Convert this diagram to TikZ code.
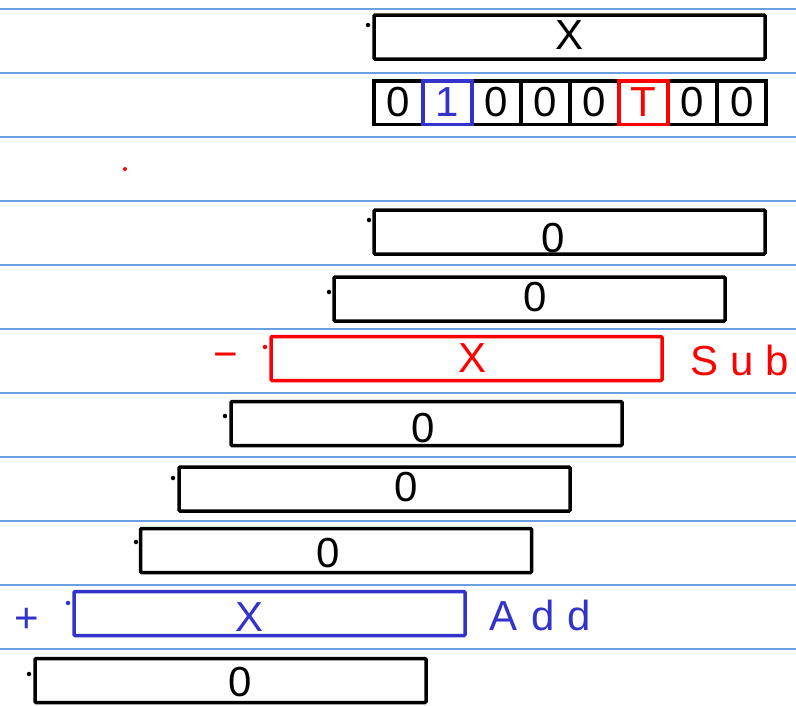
\documentclass[tikz,border=0pt]{standalone}
\usepackage{fontspec}
\setmainfont{Liberation Sans}
\definecolor{rulecol}{RGB}{105,160,225}
\definecolor{inkred}{RGB}{255,0,0}
\definecolor{inkblue}{RGB}{51,51,204}
\begin{document}
\begin{tikzpicture}[x=1pt,y=-1pt,
  bar/.style={draw, fill=white, line width=3.5pt, rounded corners=1pt,
    minimum width=391pt, minimum height=44pt, inner sep=0pt},
  cell/.style={draw, fill=white, line width=3.5pt,
    minimum width=49.06pt, minimum height=43.5pt, inner sep=0pt},
  ink/.style={font=\fontsize{42}{42}\selectfont, inner sep=0pt},
  tick/.style={circle, fill, inner sep=0pt, minimum size=4.5pt}]
\useasboundingbox (0,0) rectangle (796,705);
% ruled paper
\foreach \k in {0,...,10}
  \draw[rulecol, line width=1.2pt] (0,9+64*\k) -- (796,9+64*\k);

% word X
\node[bar] (wx) at (569.5,37) {};
\node[ink] (wxl) at (570,35) {X};
\node[tick] (wxd) at (368,25) {};

% bit cells: plain ones first, highlighted ones on top
\foreach \b/\c [count=\i from 0] in {0/black,1/inkblue,0/black,0/black,0/black,T/inkred,0/black,0/black}
  \node[cell] (c\i) at (373.75+49.06*\i+24.53,102.5) {};
\node[cell, draw=inkblue] (cb) at (c1) {};
\node[cell, draw=inkred] (cr) at (c5) {};
\foreach \b/\c [count=\i from 0] in {0/black,1/inkblue,0/black,0/black,0/black,T/inkred,0/black,0/black}
  \node[ink, text=\c] (d\i) at (c\i) {\b};

% partial products
\node[bar] (r3) at (569.5,232) {};
\node[ink] (r3l) at (553,238) {0};
\node[tick] (r3d) at (369,220) {};

\node[bar] (r4) at (529.5,299) {};
\node[ink] (r4l) at (535,297) {0};
\node[tick] (r4d) at (329,292) {};

\node[bar, draw=inkred] (r5) at (466.5,358.5) {};
\node[ink, text=inkred] (r5l) at (473,358) {X};
\node[tick, inkred] (r5d) at (265,347) {};
\node[ink, text=inkred] (minus) at (226,361) {−};
\node[ink, text=inkred, anchor=base] (sub) at (740,375) {S\hspace{12pt}u\hspace{12pt}b};

\node[bar] (r6) at (426.5,423.5) {};
\node[ink] (r6l) at (423,428) {0};
\node[tick] (r6d) at (225,416) {};

\node[bar] (r7) at (374.5,489) {};
\node[ink] (r7l) at (406,487) {0};
\node[tick] (r7d) at (173,478) {};

\node[bar] (r8) at (336,550.5) {};
\node[ink] (r8l) at (328,553) {0};
\node[tick] (r8d) at (136,542) {};

\node[bar, draw=inkblue] (r9) at (269.5,613.5) {};
\node[ink, text=inkblue] (r9l) at (250,617) {X};
\node[tick, inkblue] (r9d) at (68,603) {};
\node[ink, text=inkblue] (plus) at (27,620) {+};
\node[ink, text=inkblue, anchor=base] (add) at (540,630) {A\hspace{14pt}d\hspace{12pt}d};

\node[bar] (r10) at (230.5,680.5) {};
\node[ink] (r10l) at (240,682) {0};
\node[tick] (r10d) at (29,674) {};

\node[tick, inkred, minimum size=4pt] (dot) at (125,169) {};
\end{tikzpicture}
\end{document}
